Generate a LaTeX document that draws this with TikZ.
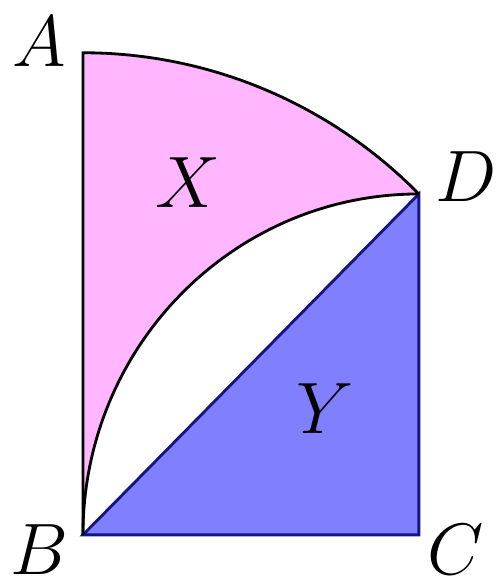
\documentclass[tikz,border=0pt]{standalone}
\usepackage{tikz}
\usetikzlibrary{calc}
\definecolor{mypink}{RGB}{255,182,255}
\definecolor{myblue}{RGB}{128,128,255}
\definecolor{mynavy}{RGB}{20,20,130}
\tikzset{
  lbl/.style={font=\fontsize{22}{27}\selectfont, inner sep=0pt},
  edge/.style={line width=0.8pt, color=black},
  tri/.style={fill=myblue, draw=mynavy, line width=0.8pt, line join=miter}
}

\begin{document}
\begin{tikzpicture}[x=3.36cm, y=3.41cm]
  \useasboundingbox (-0.247,-0.150) rectangle (1.241,1.569);
  \coordinate (B) at (0,0);
  \coordinate (C) at (1,0);
  \coordinate (D) at (1,1);
  \coordinate (A) at (0,1.4142);

  % region X
  \fill[mypink] (B) -- (A) arc[start angle=90, end angle=45, radius=1.4142]
    arc[start angle=90, end angle=180, radius=1] -- cycle;
  % region Y
  \draw[tri] (B) -- (C) -- (D) -- cycle;

  \draw[edge] (B) -- (A) arc[start angle=90, end angle=45, radius=1.4142];
  \draw[edge] (D) arc[start angle=90, end angle=180, radius=1];

  \node[lbl] (lA) at (-0.130,1.446) {$A$};
  \node[lbl] (lB) at (-0.130,-0.043) {$B$};
  \node[lbl] (lC) at (1.110,-0.044) {$C$};
  \node[lbl] (lD) at (1.140,1.050) {$D$};
  \node[lbl] (lX) at (0.3125,1.032) {$X$};
  \node[lbl] (lY) at (0.720,0.370) {$Y$};
\end{tikzpicture}
\end{document}
